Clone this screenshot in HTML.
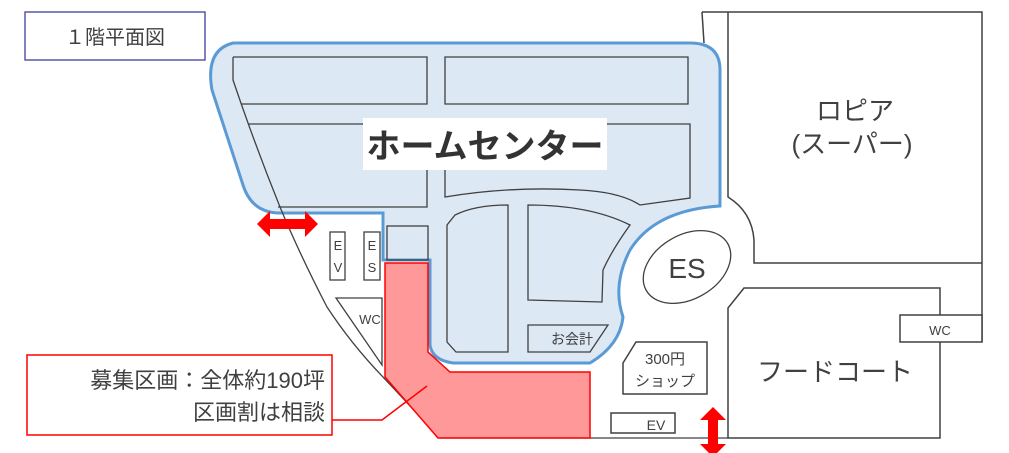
<!DOCTYPE html>
<html><head><meta charset="utf-8"><style>
html,body{margin:0;padding:0;background:#fff;}
svg{display:block;font-family:"Liberation Sans","Noto Sans CJK JP",sans-serif;}
</style></head><body>
<svg width="1009" height="453" viewBox="0 0 1009 453" xmlns="http://www.w3.org/2000/svg">
<g fill="none" stroke="#404040" stroke-width="1.5">
<path d="M702,12 L982,12 L982,342"/>
<path d="M702,12 L704,43"/>
<path d="M728,12 L728,197 Q752,212 754,240 L754,263 L982,263"/>
<path d="M728,438 L728,308 L744,288 L940,288 L940,438 Z"/>
<rect x="900" y="315" width="82" height="27" fill="#fff"/>
<path d="M623,363 L636,342 L707,342 L707,394 L623,394 Z"/>
<rect x="611" y="413" width="64" height="20"/>
</g>
<path d="M233,43 L690,43 Q720,43 720,70 L720,206 Q655,210 630,250 Q612,285 623,317 Q620,345 590,363 L453,363 Q432,360 430,345 L430,260 L383,260 L383,213 L280,213 Q252,213 243,185 L212,90 Q205,50 233,43 Z" fill="#dde8f5" stroke="#5b9bd5" stroke-width="3"/>
<g fill="none" stroke="#404040" stroke-width="1.3">
<path d="M233,57 L233,80 Q255,145 280,207 Q300,255 327,307 Q352,345 383,377 L440,438 L728,438"/>
<path d="M233,57 L427,57 L427,104 L241,104"/>
<path d="M445,57 L688,57 L688,104 L445,104 Z"/>
<path d="M248,124 L427,124 L427,207 L278,207"/>
<path d="M445,124 L690,124 L690,198 L640,205 Q620,192 580,190 Q510,186 445,197 Z"/>
<path d="M455,215 Q475,205 508,205 L508,352 L456,352 L447,342 L447,225 Z"/>
<path d="M528,205 Q590,205 630,225 Q612,250 603,270 L602,302 L528,300 Z"/>
<path d="M528,325 L608,325 L590,352 L528,352 Z"/>
<rect x="387" y="226" width="41" height="34"/>
<rect x="330" y="232" width="15" height="48" fill="#fff"/>
<rect x="364" y="232" width="16" height="48" fill="#fff"/>
<path d="M336,298 L382,298 L382,365 Z" fill="#fff"/>
<ellipse cx="687" cy="267" rx="47" ry="32" transform="rotate(-30 687 267)" fill="#fff"/>
</g>
<path d="M385,263 L428,263 L428,352 L450,372 L590,372 L590,438 L438,438 L385,377 Z" fill="#ff9999" stroke="#ff0000" stroke-width="1.5"/>
<path d="M332,420 L382,420 L427,386" fill="none" stroke="#ff0000" stroke-width="1.5"/>
<path d="M257,224 L270,211 L270,219 L305,219 L305,211 L318,224 L305,237 L305,229 L270,229 L270,237 Z" fill="#ff0000"/>
<path d="M713,407 L726,420 L718,420 L718,444 L726,444 L713,457 L700,444 L708,444 L708,420 L700,420 Z" fill="#ff0000"/>
<rect x="25" y="12" width="180" height="48" fill="#fff" stroke="#3f3f9f" stroke-width="1.3"/>
<text x="115" y="44" font-size="20" fill="#404040" text-anchor="middle">１階平面図</text>
<rect x="27" y="355" width="305" height="80" fill="#fff" stroke="#ff0000" stroke-width="1.5"/>
<text x="325" y="388" font-size="22" fill="#404040" text-anchor="end">募集区画：全体約190坪</text>
<text x="325" y="420" font-size="22" fill="#404040" text-anchor="end">区画割は相談</text>
<rect x="363" y="118" width="244" height="52" fill="#fff"/>
<text x="485" y="158" font-size="34" font-weight="bold" fill="#333" text-anchor="middle">ホームセンター</text>
<g fill="#404040" text-anchor="middle">
<text x="855" y="120" font-size="26">ロピア</text>
<text x="852" y="153" font-size="26">(スーパー)</text>
<text x="835" y="381" font-size="26">フードコート</text>
<text x="687" y="278" font-size="28">ES</text>
<text x="940" y="335" font-size="13">WC</text>
<text x="665" y="364" font-size="15">300円</text>
<text x="665" y="386" font-size="15">ショップ</text>
<text x="656" y="430" font-size="14">EV</text>
<text x="370" y="324" font-size="13">WC</text>
<text x="572" y="344" font-size="14">お会計</text>
<text x="338" y="250" font-size="13">E</text>
<text x="338" y="272" font-size="13">V</text>
<text x="372" y="250" font-size="13">E</text>
<text x="372" y="272" font-size="13">S</text>
</g>
</svg>
</body></html>
